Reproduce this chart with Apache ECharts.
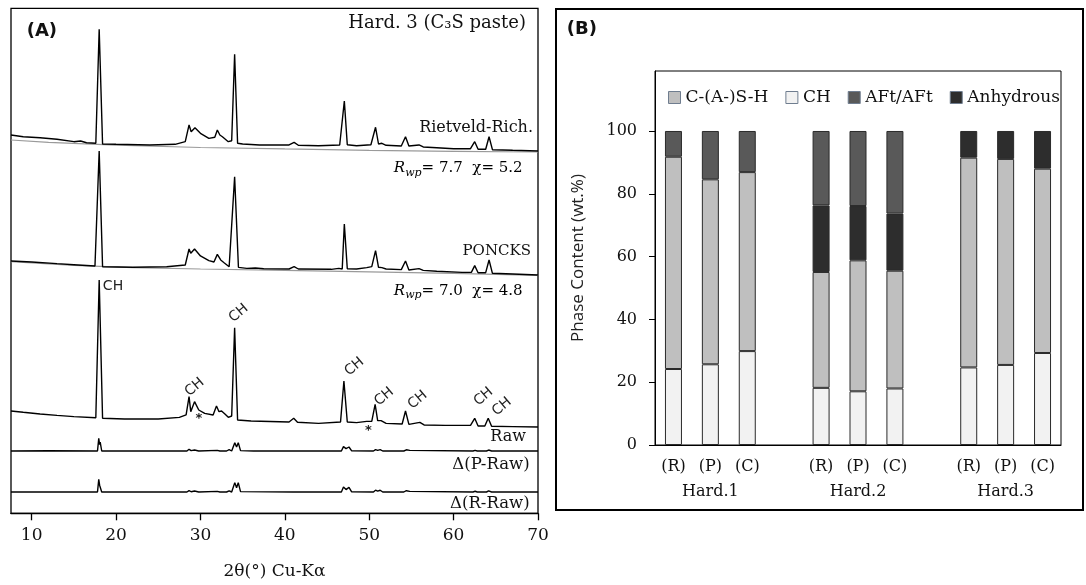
<!DOCTYPE html>
<html>
<head>
<meta charset="utf-8">
<script src="https://cdn.jsdelivr.net/npm/echarts@6/dist/echarts.min.js"></script>
<style>
  html, body { margin: 0; padding: 0; background: #ffffff; }
  #chart { width: 1086px; height: 585px; }
</style>
</head>
<body>
<div id="chart"></div>
<script>
// ---- (A) XRD patterns: [2θ (deg), intensity (a.u.)] ----
const rietveldPattern = [
  [7.55,31.3],[9,29.1],[11,27.9],[13,25.9],[15,22.9],[15.8,23.8],[16.5,21.6],[17.6,20.9],
  [18.0,163.4],[18.4,20],[20,19.6],[24,18.8],[27,19.6],[28.2,22.9],[28.65,43.8],[28.9,35.4],
  [29.35,40.4],[30.0,33.4],[31.0,27.1],[31.7,28.4],[32.0,37.5],[32.3,31.3],[32.6,29.1],
  [33.3,22.9],[33.7,24.1],[34.05,132.1],[34.4,20.9],[35,20],[37,18.8],[40.5,18.8],[41.1,22.1],
  [41.6,18.4],[44,17.9],[46.5,18.8],[47.05,73.8],[47.4,19.1],[48.5,17.9],[50.2,19.1],
  [50.75,40.9],[51.1,20],[51.5,20.9],[52,18.4],[53.8,17.5],[54.3,29.1],[54.7,17.5],
  [55.9,18.8],[56.4,16.3],[58,15.4],[60,14.1],[62.0,14.1],[62.5,22.9],[62.9,13.4],
  [63.8,13.4],[64.2,29.1],[64.6,12.9],[67,12.1],[70,11.3]
];
const rietveldBackground = [
  [7.55,25],[12,22],[20,18.6],[30,15.6],[40,13.8],[50,12.1],[60,10.9],[70,10]
];
const poncksPattern = [
  [7.55,30],[10,28.8],[13,26.7],[15,25.4],[17.5,23.8],[18.0,167.5],[18.4,22.9],[22,22.1],
  [26,22.9],[28.2,25],[28.65,45],[28.85,39.6],[29.3,45],[30.0,36.3],[31.0,30.4],[31.6,28.8],
  [32.0,38.3],[32.4,31.3],[32.8,27.9],[33.4,22.9],[34.05,135.4],[34.5,22.1],[35.5,20.8],
  [36.5,21.3],[37.5,20.4],[40.5,20],[41.1,22.9],[41.6,20],[45.5,19.6],[46.4,20.8],[46.8,20],
  [47.05,76.3],[47.4,20.4],[48.5,20],[49.7,21.7],[50.3,22.9],[50.75,42.9],[51.1,22.1],
  [51.5,21.7],[52,20],[53.8,19.2],[54.3,30],[54.7,18.8],[55.9,20.4],[56.4,18.3],[58,17.1],
  [61,15.8],[62.1,15.8],[62.5,24.2],[62.9,15.4],[63.8,15.4],[64.2,31.3],[64.6,14.6],
  [67,13.8],[70,12.5]
];
const poncksBackground = [
  [7.55,29.2],[15,24.6],[22,21.7],[30,20],[40,18.3],[50,16.3],[60,14.6],[70,12.1]
];
const rawPattern = [
  [7.55,36.3],[9,34.6],[11,32.5],[13,30.8],[15,29.2],[17.6,27.9],[18.0,200],[18.4,27.1],
  [21,26.3],[25,26.3],[27.5,28.3],[28.3,31.3],[28.65,54.2],[28.85,35.4],[29.3,47.9],
  [29.8,37.5],[30.5,33.3],[31.5,31.3],[31.9,42.5],[32.2,35.4],[32.5,36.3],[32.9,32.5],
  [33.3,28.3],[33.7,30],[34.05,140.4],[34.4,25],[36,23.8],[40.5,22.5],[41.05,27.1],
  [41.5,22.1],[44,20.8],[46.6,22.5],[47.0,73.8],[47.4,22.5],[48.5,21.7],[49.7,23.3],
  [50.3,23.3],[50.7,44.6],[51.0,24.2],[51.4,24.2],[52,20.8],[53.9,20],[54.3,36.3],
  [54.7,19.6],[56.0,22.1],[56.5,18.8],[59,18.3],[62.0,18.3],[62.5,27.1],[62.9,17.5],
  [63.7,17.5],[64.1,27.1],[64.5,17.1],[67,16.7],[70,16.3]
];
const diffPoncks = [
  [7.55,0],[12,0.3],[17.8,0],[17.95,15.9],[18.05,8],[18.12,11],[18.3,0],[28.4,0],[28.65,2.1],
  [28.9,0.4],[29.3,1.2],[29.8,0],[32.0,0.8],[32.3,0],[33.1,0],[33.4,1.6],[33.7,0],[33.9,0.3],
  [34.07,10.4],[34.28,5],[34.48,10.4],[34.75,0.5],[36.3,0],[41.0,0],[41.15,0.8],[41.4,0],
  [46.7,0],[46.95,5.4],[47.25,3],[47.6,5.0],[47.9,0.4],[50.5,0],[50.75,1.8],[51.0,0.8],
  [51.3,1.8],[51.6,0],[54.1,0],[54.4,1.5],[54.8,0.8],[55.0,0],[62.3,0],[62.55,0.8],[62.8,0],
  [63.9,0],[64.15,1.2],[64.5,0],[70,0]
];
const diffRietveld = [
  [7.55,0],[17.8,0],[17.95,15.9],[18.05,8.5],[18.12,11],[18.3,0],[28.4,0],[28.65,1.8],
  [28.9,0.3],[29.3,1.2],[29.8,0],[32.0,0.8],[32.3,0],[33.1,0],[33.4,1.5],[33.7,0],[33.9,0.3],
  [34.07,11.7],[34.28,5.4],[34.48,11.7],[34.75,0.5],[41.0,0],[41.15,0.8],[41.4,0],[46.7,0],
  [46.95,6.3],[47.25,3],[47.6,5.8],[47.9,0.4],[50.5,0],[50.75,2.3],[51.0,1],[51.3,2.2],
  [51.6,0],[54.1,0],[54.4,1.6],[54.8,0.8],[55.0,0],[62.3,0],[62.55,0.9],[62.8,0],[63.9,0],
  [64.15,1.3],[64.5,0],[70,0]
];
const twoThetaTicks = [10, 20, 30, 40, 50, 60, 70];
// portlandite (CH) reflection labels: [2θ, intensity, rotation]
const chLabels = [
  [19.64,191.6,0],[29.33,65.9,40],[34.52,158.4,40],[48.25,91.6,40],[51.78,54.1,40],
  [55.74,50,40],[63.55,54.1,40],[65.72,41.6,40]
];
const starLabels = [[29.83,26.3],[49.91,11.6]];

// ---- (B) phase quantification (wt.%) ----
const hardenings = ['Hard.1', 'Hard.2', 'Hard.3'];
const methods = ['(R)', '(P)', '(C)'];
const phaseCH        = [24.2, 25.7, 29.9, 18.2, 17.1, 18.0, 24.7, 25.5, 29.3];
const phaseCSH       = [67.6, 58.9, 57.0, 36.9, 41.7, 37.5, 66.8, 65.6, 58.7];
const phaseAnhydrous = [0, 0, 0, 21.2, 17.3, 18.2, 8.5, 8.9, 12.0];
const phaseAFt       = [8.2, 15.4, 13.1, 23.7, 23.9, 26.3, 0, 0, 0];
const contentTicks = [0, 20, 40, 60, 80, 100];

// category slots with an empty slot between hardening groups
const categories = [];
hardenings.forEach((g, gi) => {
  if (gi > 0) categories.push('gap' + gi);
  methods.forEach(m => categories.push(g + '|' + m));
});
function slotData(values) {
  const out = [];
  let k = 0;
  categories.forEach(c => {
    if (c.startsWith('gap')) { out.push(null); }
    else { const v = values[k++]; out.push(v === 0 ? null : v); }
  });
  return out;
}

const SERIF = 'DejaVu Serif';
const SANS = 'DejaVu Sans';
const INK = '#111111';

const chart = echarts.init(document.getElementById('chart'), null, { renderer: 'canvas' });

// panel A: frame grid + one grid per stacked trace (same 2θ range)
const xMin = 7.55, xMax = 70;
const traceGrids = [
  { top: 0, bottom: 409 },     // Rietveld-Rich.
  { top: 125, bottom: 284 },   // PONCKS
  { top: 280, bottom: 129 },   // Raw
  { top: 291, bottom: 118 },   // Δ(P-Raw)
  { top: 332, bottom: 77 }     // Δ(R-Raw)
];

const grids = [
  { left: 11, right: 548, top: 8.3, bottom: 71.7, show: true, borderColor: '#000', borderWidth: 1.3,
    backgroundColor: 'transparent', outerBoundsMode: 'none', containLabel: false }
];
traceGrids.forEach(g => grids.push({ left: 11, right: 548, top: g.top, bottom: g.bottom, show: false,
  outerBoundsMode: 'none', containLabel: false }));
grids.push({ left: 655, right: 25, top: 71, bottom: 140, show: true, borderColor: '#000', borderWidth: 1,
  backgroundColor: 'transparent', outerBoundsMode: 'none', containLabel: false });

const xAxes = [{
  gridIndex: 0, type: 'value', min: xMin, max: xMax,
  name: '2θ(°) Cu-Kα', nameLocation: 'middle', nameGap: 50,
  nameTextStyle: { fontFamily: SERIF, fontSize: 17, color: INK },
  axisLine: { show: true, lineStyle: { color: '#000', width: 1.3 } },
  axisTick: { show: true, length: 7, customValues: twoThetaTicks, lineStyle: { color: '#000', width: 1.3 } },
  axisLabel: { customValues: twoThetaTicks, margin: 14, fontFamily: SERIF, fontSize: 17, color: INK },
  splitLine: { show: false }
}];
const yAxes = [{ gridIndex: 0, type: 'value', show: false, min: 0, max: 1 }];
traceGrids.forEach((g, i) => {
  xAxes.push({ gridIndex: i + 1, type: 'value', min: xMin, max: xMax, show: false });
  yAxes.push({ gridIndex: i + 1, type: 'value', min: -20, max: 200, show: false });
});
xAxes.push({
  gridIndex: 6, type: 'category', data: categories,
  axisLine: { show: true, lineStyle: { color: '#000', width: 1 } },
  axisTick: { show: false },
  axisLabel: {
    interval: 0, margin: 9, fontFamily: SERIF, fontSize: 16, color: INK, lineHeight: 25,
    formatter: v => {
      if (v.startsWith('gap')) return '';
      const [g, m] = v.split('|');
      return m === '(P)' ? m + '\n' + g : m;
    }
  }
});
yAxes.push({
  gridIndex: 6, type: 'value', min: 0, max: 119.1,
  name: 'Phase Content (wt.%)', nameLocation: 'middle', nameGap: 68, nameRotate: 90,
  nameTextStyle: { fontFamily: 'Open Sans', fontSize: 17, color: '#222' },
  axisLine: { show: true, lineStyle: { color: '#000', width: 1 } },
  axisTick: { show: true, length: 6, customValues: contentTicks, lineStyle: { color: '#000' } },
  axisLabel: { customValues: contentTicks, margin: 18, fontFamily: SERIF, fontSize: 16, color: INK },
  splitLine: { show: false }
});

function trace(name, data, idx, color, width, z) {
  return {
    name, type: 'line', data, xAxisIndex: idx, yAxisIndex: idx,
    showSymbol: false, symbol: 'none', smooth: false, animation: false, z,
    lineStyle: { color, width }, silent: true
  };
}

const rawSeries = trace('Raw', rawPattern, 3, '#000', 1.4, 3);
rawSeries.markPoint = {
  symbolSize: 0, silent: true, animation: false,
  data: chLabels.map(([x, y, r]) => ({
    coord: [x, y],
    label: { show: true, position: 'inside', formatter: 'CH', rotate: r, fontFamily: SANS, fontSize: 14, color: '#222' }
  })).concat(starLabels.map(([x, y]) => ({
    coord: [x, y],
    label: { show: true, position: 'inside', formatter: '*', fontFamily: SANS, fontSize: 13, fontWeight: 'bold', color: '#222' }
  })))
};

const barColors = { 'C-(A-)S-H': '#bfbfbf', 'CH': '#f2f2f2', 'AFt/AFt': '#595959', 'Anhydrous': '#2d2d2d' };
function bars(name, values) {
  return {
    name, type: 'bar', stack: 'phase', xAxisIndex: 6, yAxisIndex: 6, barWidth: 17,
    data: slotData(values), animation: false,
    itemStyle: { color: barColors[name], borderColor: '#2a2a2a', borderWidth: 1 }
  };
}

const rich = {
  i: { fontFamily: SERIF, fontStyle: 'italic', fontSize: 15, color: INK, lineHeight: 20 },
  s: { fontFamily: SERIF, fontStyle: 'italic', fontSize: 11, color: INK, lineHeight: 9, verticalAlign: 'bottom' },
  n: { fontFamily: SERIF, fontSize: 15, color: INK, lineHeight: 20 }
};
function label(x, y, text, size, extra) {
  return Object.assign({
    type: 'text', x, y, silent: true,
    style: { text, fontFamily: SERIF, fontSize: size, fill: INK, align: 'right', verticalAlign: 'middle' }
  }, extra || {});
}

chart.setOption({
  animation: false,
  backgroundColor: '#ffffff',
  grid: grids,
  xAxis: xAxes,
  yAxis: yAxes,
  legend: {
    data: ['C-(A-)S-H', 'CH', 'AFt/AFt', 'Anhydrous'],
    left: 663, top: 84, icon: 'rect', itemWidth: 12, itemHeight: 12, itemGap: 17,
    selectedMode: false,
    itemStyle: { borderColor: '#6f7d8f', borderWidth: 1 },
    textStyle: { fontFamily: SERIF, fontSize: 17, color: INK }
  },
  series: [
    trace('Rietveld background', rietveldBackground, 1, '#9a9a9a', 1.2, 1),
    trace('Rietveld-Rich.', rietveldPattern, 1, '#000', 1.4, 2),
    trace('PONCKS background', poncksBackground, 2, '#9a9a9a', 1.2, 1),
    trace('PONCKS', poncksPattern, 2, '#000', 1.4, 2),
    rawSeries,
    trace('Δ(P-Raw)', diffPoncks, 4, '#000', 1.4, 2),
    trace('Δ(R-Raw)', diffRietveld, 5, '#000', 1.4, 2),
    bars('CH', phaseCH),
    bars('C-(A-)S-H', phaseCSH),
    bars('Anhydrous', phaseAnhydrous),
    bars('AFt/AFt', phaseAFt)
  ],
  graphic: [
    { type: 'rect', silent: true, shape: { x: 556, y: 9, width: 527, height: 501 },
      style: { fill: 'none', stroke: '#000', lineWidth: 2 } },
    label(26.7, 31, '(A)', 18, { style: { text: '(A)', fontFamily: SANS, fontWeight: 'bold', fontSize: 18, fill: INK, align: 'left', verticalAlign: 'middle' } }),
    label(566.7, 29.7, '(B)', 18, { style: { text: '(B)', fontFamily: SANS, fontWeight: 'bold', fontSize: 18, fill: INK, align: 'left', verticalAlign: 'middle' } }),
    label(526, 23.3, 'Hard. 3 (C₃S paste)', 18),
    label(533, 128.3, 'Rietveld-Rich.', 16),
    label(522.6, 168.3, '', 15, { style: { text: '{i|R}{s|wp}{n|= 7.7  χ= 5.2}', rich, align: 'right', verticalAlign: 'middle' } }),
    label(531, 250.7, 'PONCKS', 15),
    label(522.6, 291, '', 15, { style: { text: '{i|R}{s|wp}{n|= 7.0  χ= 4.8}', rich, align: 'right', verticalAlign: 'middle' } }),
    label(526, 437.3, 'Raw', 16),
    label(529.6, 465, 'Δ(P-Raw)', 16.5),
    label(529.6, 503.5, 'Δ(R-Raw)', 16.5)
  ]
});
</script>
</body>
</html>
